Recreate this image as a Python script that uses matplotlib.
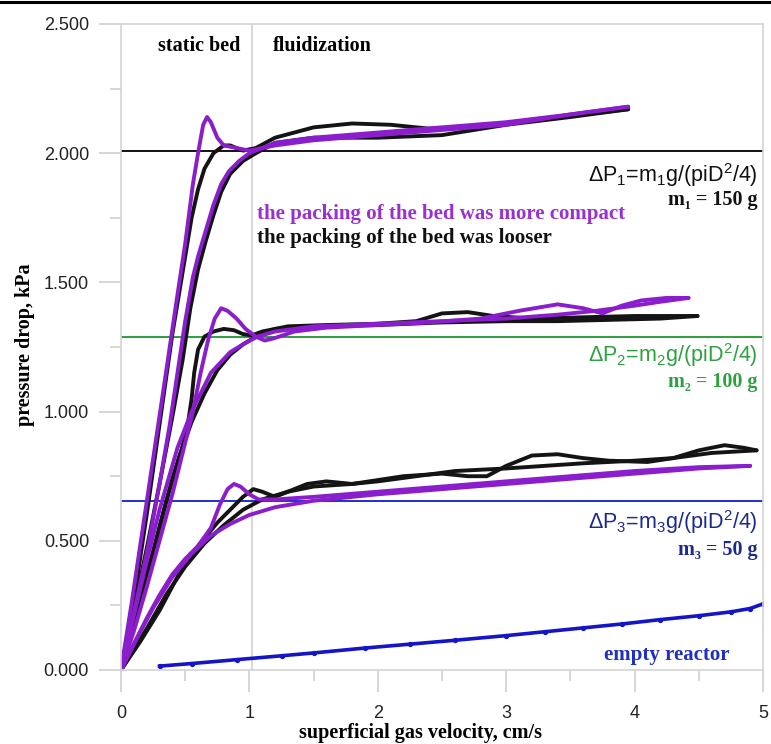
import numpy as np
import matplotlib
matplotlib.use('Agg')
import matplotlib.pyplot as plt
from matplotlib.lines import Line2D
from matplotlib.ticker import MultipleLocator, FormatStrFormatter

plt.rcParams['mathtext.fontset'] = 'custom'
plt.rcParams['mathtext.rm'] = 'Liberation Sans'
plt.rcParams['mathtext.it'] = 'Liberation Sans'

# ---- data (x in cm/s, y in kPa) ----
# m1 = 150 g
b1_up_x = [0, 0.1, 0.2, 0.3, 0.4, 0.5, 0.55, 0.6, 0.65, 0.72, 0.8, 0.85, 0.95, 1.05, 1.2, 1.5, 1.8, 2.1, 2.4, 2.7, 3.0, 3.3, 3.6, 3.95]
b1_up_y = [0, 0.27, 0.6, 0.95, 1.3, 1.6, 1.75, 1.86, 1.94, 2.0, 2.03, 2.03, 2.01, 2.02, 2.06, 2.1, 2.115, 2.11, 2.095, 2.1, 2.115, 2.13, 2.15, 2.17]
b1_dn_x = [3.95, 3.5, 3.0, 2.5, 2.0, 1.5, 1.2, 1.05, 0.95, 0.85, 0.78, 0.72, 0.66, 0.6, 0.54, 0.48, 0.4, 0.3, 0.2, 0.1, 0]
b1_dn_y = [2.17, 2.14, 2.11, 2.07, 2.06, 2.06, 2.04, 2.0, 1.97, 1.92, 1.85, 1.76, 1.66, 1.55, 1.4, 1.2, 0.98, 0.72, 0.47, 0.23, 0]
p1_up_x = [0, 0.08, 0.17, 0.26, 0.35, 0.43, 0.5, 0.56, 0.6, 0.64, 0.67, 0.7, 0.75, 0.8, 0.9, 1.0, 1.2, 1.5, 2.0, 2.5, 3.0, 3.5, 3.95]
p1_up_y = [0, 0.25, 0.55, 0.85, 1.15, 1.42, 1.65, 1.88, 2.0, 2.11, 2.14, 2.12, 2.06, 2.03, 2.02, 2.01, 2.03, 2.05, 2.07, 2.09, 2.11, 2.15, 2.18]
p1_dn_x = [3.95, 3.5, 3.0, 2.5, 2.0, 1.5, 1.2, 1.0, 0.92, 0.84, 0.78, 0.72, 0.66, 0.6, 0.56, 0.5, 0.44, 0.38, 0.3, 0.2, 0.1, 0]
p1_dn_y = [2.18, 2.15, 2.12, 2.1, 2.08, 2.06, 2.04, 2.0, 1.97, 1.93, 1.88, 1.8, 1.7, 1.6, 1.52, 1.35, 1.15, 0.95, 0.72, 0.45, 0.22, 0]

# m2 = 100 g
b2_up_x = [0, 0.1, 0.2, 0.3, 0.4, 0.47, 0.52, 0.55, 0.57, 0.6, 0.65, 0.72, 0.8, 0.88, 0.95, 1.02, 1.1, 1.3, 1.6, 2.0, 2.3, 2.5, 2.7, 2.9, 3.2, 3.6, 4.0, 4.3, 4.49]
b2_up_y = [0, 0.17, 0.35, 0.55, 0.74, 0.85, 0.95, 1.05, 1.15, 1.24, 1.29, 1.31, 1.32, 1.315, 1.3, 1.295, 1.31, 1.33, 1.335, 1.34, 1.35, 1.38, 1.385, 1.37, 1.36, 1.365, 1.37, 1.37, 1.37]
b2_dn_x = [4.49, 4.2, 3.8, 3.4, 3.0, 2.5, 2.0, 1.5, 1.2, 1.05, 0.95, 0.85, 0.75, 0.65, 0.55, 0.45, 0.35, 0.25, 0.15, 0]
b2_dn_y = [1.37, 1.36, 1.355, 1.35, 1.35, 1.345, 1.335, 1.33, 1.32, 1.29, 1.26, 1.22, 1.16, 1.07, 0.96, 0.82, 0.65, 0.46, 0.28, 0]
p2_up_x = [0, 0.1, 0.2, 0.3, 0.4, 0.5, 0.56, 0.62, 0.68, 0.73, 0.78, 0.83, 0.9, 0.97, 1.05, 1.12, 1.2, 1.35, 1.6, 2.0, 2.4, 2.8, 3.1, 3.4, 3.6, 3.75, 3.9, 4.05, 4.25, 4.42]
p2_up_y = [0, 0.15, 0.32, 0.5, 0.68, 0.88, 1.0, 1.15, 1.28, 1.36, 1.4, 1.39, 1.36, 1.32, 1.29, 1.275, 1.285, 1.31, 1.325, 1.335, 1.345, 1.36, 1.39, 1.415, 1.4, 1.38, 1.41, 1.43, 1.44, 1.44]
p2_dn_x = [4.42, 4.2, 4.0, 3.7, 3.4, 3.0, 2.5, 2.0, 1.5, 1.2, 1.06, 0.95, 0.85, 0.7, 0.55, 0.44, 0.3, 0.2, 0.1, 0]
p2_dn_y = [1.44, 1.425, 1.41, 1.39, 1.375, 1.36, 1.35, 1.34, 1.33, 1.31, 1.29, 1.26, 1.23, 1.15, 1.0, 0.86, 0.62, 0.42, 0.21, 0]

# m3 = 50 g
b3_up_x = [0, 0.15, 0.3, 0.45, 0.6, 0.75, 0.85, 0.95, 1.03, 1.1, 1.2, 1.3, 1.45, 1.6, 1.8, 2.0, 2.2, 2.5, 2.7, 2.85, 3.0, 3.2, 3.4, 3.6, 3.8, 4.1, 4.3, 4.5, 4.7, 4.85, 4.95]
b3_up_y = [0, 0.11, 0.23, 0.37, 0.48, 0.57, 0.62, 0.67, 0.7, 0.69, 0.67, 0.69, 0.72, 0.73, 0.72, 0.735, 0.75, 0.76, 0.75, 0.75, 0.79, 0.83, 0.835, 0.82, 0.81, 0.805, 0.82, 0.85, 0.87, 0.86, 0.85]
b3_dn_x = [4.95, 4.6, 4.3, 4.0, 3.6, 3.3, 3.0, 2.6, 2.3, 2.0, 1.8, 1.5, 1.3, 1.1, 0.95, 0.8, 0.65, 0.5, 0.35, 0.2, 0.1, 0]
b3_dn_y = [0.85, 0.84, 0.82, 0.81, 0.8, 0.79, 0.78, 0.77, 0.75, 0.73, 0.72, 0.71, 0.69, 0.66, 0.62, 0.56, 0.49, 0.4, 0.29, 0.16, 0.08, 0]
p3_up_x = [0, 0.1, 0.2, 0.3, 0.4, 0.5, 0.6, 0.7, 0.77, 0.83, 0.88, 0.93, 1.0, 1.07, 1.2, 1.5, 2.0, 2.5, 3.0, 3.5, 4.0, 4.5, 4.9]
p3_up_y = [0, 0.1, 0.2, 0.29, 0.37, 0.43, 0.48, 0.55, 0.64, 0.7, 0.72, 0.71, 0.68, 0.66, 0.66, 0.67, 0.69, 0.71, 0.73, 0.75, 0.77, 0.785, 0.79]
p3_dn_x = [4.9, 4.5, 4.0, 3.5, 3.0, 2.5, 2.0, 1.5, 1.2, 1.0, 0.85, 0.7, 0.55, 0.4, 0.25, 0.12, 0]
p3_dn_y = [0.79, 0.78, 0.76, 0.74, 0.72, 0.7, 0.68, 0.655, 0.63, 0.6, 0.565, 0.52, 0.45, 0.36, 0.24, 0.12, 0]

# empty reactor
er_x = [0.3, 0.55, 0.9, 1.25, 1.5, 1.9, 2.25, 2.6, 3.0, 3.3, 3.6, 3.9, 4.2, 4.5, 4.75, 4.9, 5.0]
er_y = [0.015, 0.025, 0.04, 0.055, 0.066, 0.085, 0.1, 0.115, 0.133, 0.148, 0.163, 0.178, 0.195, 0.21, 0.225, 0.238, 0.256]

dp_levels = [2.01, 1.29, 0.654]
dp_colors = ['#111111', '#2e9e3e', '#1f2fd0']

black = '#141414'
purple = '#8a1dcc'

fig = plt.figure(figsize=(7.71, 7.44), dpi=100)
ax = fig.add_axes([121/771, 1-670/744, 642/771, 646/744])

for lv, c in zip(dp_levels, dp_colors):
    ax.axhline(lv, color=c, lw=1.4, zorder=1.5)
ax.axvline(1.02, color='#d2d2d2', lw=1.2, zorder=1)

kw = dict(lw=2.8, solid_capstyle='round', solid_joinstyle='round', zorder=2)
for xs, ys in [(b1_up_x, b1_up_y), (b1_dn_x, b1_dn_y), (b2_up_x, b2_up_y), (b2_dn_x, b2_dn_y),
               (b3_up_x, b3_up_y), (b3_dn_x, b3_dn_y)]:
    ax.plot(xs, ys, color=black, **kw)
for xs, ys in [(p1_up_x, p1_up_y), (p1_dn_x, p1_dn_y), (p2_up_x, p2_up_y), (p2_dn_x, p2_dn_y),
               (p3_up_x, p3_up_y), (p3_dn_x, p3_dn_y)]:
    ax.plot(xs, ys, color=purple, **kw)
ax.plot(er_x, er_y, color='#1414c8', lw=2.6, marker='o', ms=2.8, zorder=2)

ax.set_xlim(0, 5)
ax.set_ylim(0, 2.5)
ax.xaxis.set_major_locator(MultipleLocator(1))
ax.xaxis.set_minor_locator(MultipleLocator(0.5))
ax.yaxis.set_major_locator(MultipleLocator(0.5))
ax.yaxis.set_minor_locator(MultipleLocator(0.25))
ax.yaxis.set_major_formatter(FormatStrFormatter('%.3f'))
for s in ax.spines.values():
    s.set_color('#d4d4d4')
    s.set_linewidth(1.2)
ax.tick_params(which='major', length=16, width=1.1, color='#cccccc', labelsize=13,
               labelcolor='#222222', pad=7)
ax.tick_params(which='minor', length=8, width=1.1, color='#cccccc')
ax.tick_params(axis='x', which='major', pad=9)
for lab in ax.get_xticklabels() + ax.get_yticklabels():
    lab.set_family('Liberation Sans')

serif = dict(family=['Liberation Serif', 'DejaVu Serif'], weight='bold')
ax.text(-0.15, 0.503, 'pressure drop, kPa', transform=ax.transAxes, rotation=90,
        ha='center', va='center', fontsize=14.5, **serif)
ax.text(0.466, -0.098, 'superficial gas velocity, cm/s', transform=ax.transAxes,
        ha='center', va='center', fontsize=14.5, **serif)

ax.text(0.61, 2.415, 'static bed', ha='center', va='center', fontsize=14.5, **serif)
ax.text(1.18, 2.415, 'fluidization', ha='left', va='center', fontsize=14.5, **serif)
ax.text(1.06, 1.765, 'the packing of the bed was more compact', color='#9a30d2',
        ha='left', va='center', fontsize=15, **serif)
ax.text(1.06, 1.672, 'the packing of the bed was looser', color='#111111',
        ha='left', va='center', fontsize=15, **serif)

sans = dict(family=['Liberation Sans', 'DejaVu Sans'])
ax.text(4.96, 1.916, r'ΔP$_1$=m$_1$g/(piD$^2$/4)', color='#111111', ha='right', va='center',
        fontsize=15.5, **sans)
ax.text(4.96, 1.819, 'm₁ = 150 g', color='#111111', ha='right', va='center', fontsize=14.5, **serif)
ax.text(4.96, 1.219, r'ΔP$_2$=m$_2$g/(piD$^2$/4)', color='#2fa040', ha='right', va='center',
        fontsize=15.5, **sans)
ax.text(4.96, 1.115, 'm₂ = 100 g', color='#2fa040', ha='right', va='center', fontsize=14.5, **serif)
ax.text(4.96, 0.573, r'ΔP$_3$=m$_3$g/(piD$^2$/4)', color='#1c2a8c', ha='right', va='center',
        fontsize=15.5, **sans)
ax.text(4.96, 0.464, 'm₃ = 50 g', color='#1c2a8c', ha='right', va='center', fontsize=14.5, **serif)
ax.text(4.25, 0.058, 'empty reactor', color='#2030c0', ha='center', va='center', fontsize=15, **serif)

fig.add_artist(Line2D([0, 1], [1 - 1.5/744, 1 - 1.5/744], color='black', lw=2.2,
                      transform=fig.transFigure))

fig.savefig('out.png', dpi=100)
